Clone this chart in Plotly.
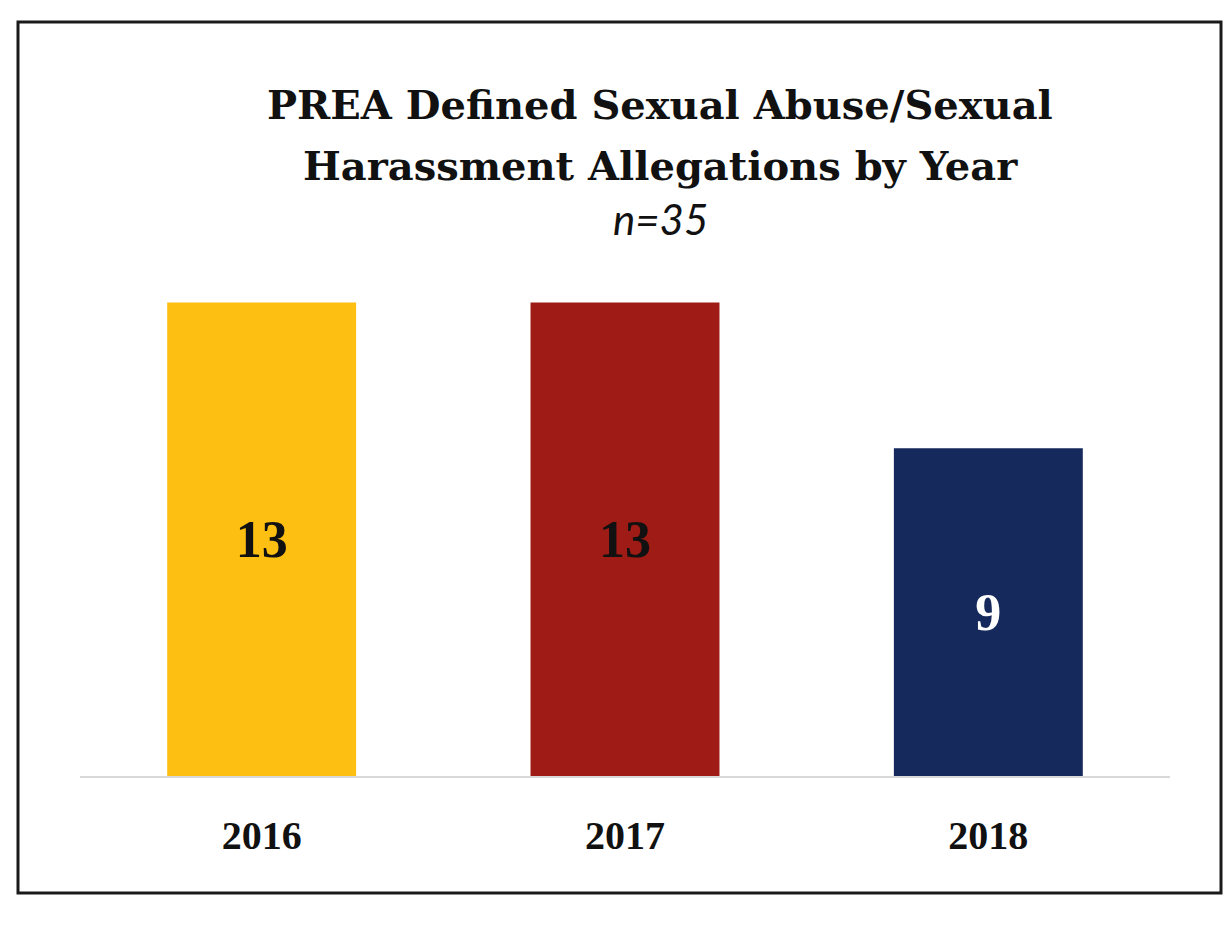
import plotly.graph_objects as go

# Allegations per year
years = ["2016", "2017", "2018"]
counts = [13, 13, 9]
bar_colors = ["#FDBF12", "#9E1B16", "#16295C"]
label_colors = ["#111111", "#111111", "#FFFFFF"]

title_lines = ["PREA Defined Sexual Abuse/Sexual", "Harassment Allegations by Year"]
subtitle = "n=35"

W, H = 1225, 925
ml, mr, mt, mb = 80, 55, 266, 149
pw, ph = W - ml - mr, H - mt - mb


def px_to_paper(x, y):
    return (x - ml) / pw, (H - mb - y) / ph


fig = go.Figure(
    go.Bar(
        x=years,
        y=counts,
        marker=dict(color=bar_colors, line=dict(width=0)),
        width=0.52,
        text=[str(v) for v in counts],
        textposition="inside",
        insidetextanchor="middle",
        textangle=0,
        textfont=dict(family="Liberation Serif", size=52, color=label_colors, weight="bold"),
        hoverinfo="skip",
    )
)

# Outer frame around the chart
x0, y0 = px_to_paper(18, 893)
x1, y1 = px_to_paper(1221, 22)
fig.add_shape(type="rect", xref="paper", yref="paper", x0=x0, y0=y0, x1=x1, y1=y1,
              line=dict(color="#1a1a1a", width=3), fillcolor="rgba(0,0,0,0)", layer="below")

# Title block: two bold lines and an italic count underneath
cx = px_to_paper(660, 0)[0]
for line, ypx in zip(title_lines, [104, 165]):
    fig.add_annotation(text=line, xref="paper", yref="paper",
                       x=cx, y=px_to_paper(0, ypx)[1], xanchor="center", yanchor="middle",
                       showarrow=False,
                       font=dict(family="DejaVu Serif", size=40, color="#111111", weight="bold"))
fig.add_annotation(text="<i>" + subtitle + "</i>", xref="paper", yref="paper",
                   x=cx, y=px_to_paper(0, 219)[1], xanchor="center", yanchor="middle",
                   showarrow=False,
                   font=dict(family="Lato", size=42, color="#111111"))

fig.update_layout(
    width=W, height=H,
    margin=dict(l=ml, r=mr, t=mt, b=mb),
    paper_bgcolor="white", plot_bgcolor="white",
    showlegend=False,
    bargap=0.48,
    xaxis=dict(showgrid=False, zeroline=False, showline=True, linecolor="#D9D9D9",
               linewidth=2, ticks="", ticklabelstandoff=23,
               tickfont=dict(family="Liberation Serif", size=40, color="#111111", weight="bold")),
    yaxis=dict(range=[0, 14], showgrid=False, zeroline=False, showline=False,
               showticklabels=False, ticks=""),
)

fig.write_html("out.html")
